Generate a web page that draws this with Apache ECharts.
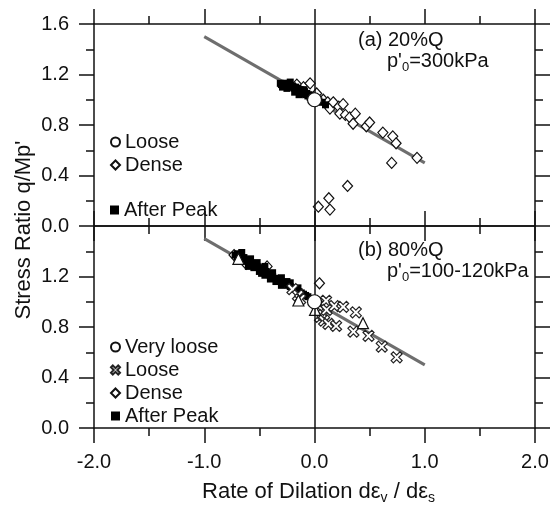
<!DOCTYPE html>
<html>
<head>
<meta charset="utf-8">
<script src="https://cdn.jsdelivr.net/npm/echarts@6/dist/echarts.min.js"></script>
<style>html,body{margin:0;padding:0;background:#fff}#c{width:552px;height:507px}</style>
</head>
<body>
<div id="c"></div>
<script>
// ---- data ----
const xTicks = [-2, -1, 0, 1, 2];
const yTicks = [0, 0.4, 0.8, 1.2, 1.6];
const fitLine = [[-1.0, 1.5], [1.0, 0.5]];

// (a) 20%Q, p'0 = 300 kPa
const topLoose = [[0.0, 1.0]];
const topDense = [[-0.16, 1.12], [-0.10, 1.10], [-0.04, 1.13], [0.02, 1.05], [0.08, 1.00], [0.12, 0.98],
  [0.14, 0.93], [0.17, 0.98], [0.22, 0.945], [0.23, 0.89], [0.26, 0.965], [0.28, 0.88], [0.32, 0.86],
  [0.35, 0.81], [0.37, 0.89], [0.47, 0.79], [0.50, 0.82], [0.62, 0.74], [0.71, 0.71], [0.74, 0.655],
  [0.93, 0.54], [0.70, 0.50], [0.30, 0.317], [0.13, 0.22], [0.035, 0.153], [0.14, 0.13]];
const topAfterPeak = [[-0.31, 1.13], [-0.30, 1.12], [-0.28, 1.13], [-0.27, 1.12], [-0.26, 1.13], [-0.25, 1.12],
  [-0.24, 1.11], [-0.23, 1.12], [-0.22, 1.11], [-0.21, 1.10], [-0.20, 1.11], [-0.19, 1.10], [-0.18, 1.09],
  [-0.17, 1.10], [-0.16, 1.08], [-0.15, 1.09], [-0.14, 1.07], [-0.13, 1.08], [-0.12, 1.06], [-0.11, 1.07],
  [-0.10, 1.05], [-0.09, 1.06], [-0.08, 1.04], [-0.07, 1.05], [-0.06, 1.03], [-0.05, 1.04], [-0.04, 1.02],
  [-0.03, 1.03], [-0.02, 1.01], [0.04, 0.99], [0.07, 0.98], [0.10, 0.96],
  [-0.29, 1.10], [-0.25, 1.09], [-0.22, 1.14], [-0.18, 1.06], [-0.14, 1.04], [-0.10, 1.08]];

// (b) 80%Q, p'0 = 100-120 kPa
const botVeryLoose = [[0.0, 1.0]];
const botLoose = [[-0.20, 1.10], [-0.15, 1.05], [-0.13, 1.02], [0.03, 0.97], [0.05, 0.88], [0.08, 0.895],
  [0.087, 0.85], [0.105, 1.008], [0.11, 0.935], [0.126, 0.824], [0.18, 0.966], [0.196, 0.808], [0.26, 0.96],
  [0.353, 0.763], [0.375, 0.916], [0.49, 0.73], [0.61, 0.644], [0.745, 0.56]];
const botDense = [[-0.73, 1.37], [-0.66, 1.35], [-0.62, 1.30], [-0.43, 1.28], [0.045, 1.146]];
const botAfterPeak = [[-0.72, 1.37], [-0.70, 1.38], [-0.68, 1.36], [-0.66, 1.35], [-0.64, 1.35], [-0.62, 1.33],
  [-0.60, 1.32], [-0.58, 1.31], [-0.56, 1.30], [-0.54, 1.29], [-0.52, 1.28], [-0.50, 1.27], [-0.48, 1.225],
  [-0.46, 1.25], [-0.44, 1.24], [-0.42, 1.22], [-0.40, 1.21], [-0.38, 1.20], [-0.36, 1.186], [-0.34, 1.18],
  [-0.32, 1.17], [-0.30, 1.16], [-0.28, 1.15], [-0.25, 1.16], [-0.24, 1.13], [-0.22, 1.12], [-0.20, 1.11],
  [-0.18, 1.10], [-0.16, 1.09], [-0.14, 1.08], [-0.12, 1.07], [-0.10, 1.06], [-0.08, 1.05], [-0.06, 1.04],
  [-0.70, 1.33], [-0.65, 1.32], [-0.60, 1.28], [-0.55, 1.27], [-0.50, 1.24], [-0.45, 1.21], [-0.40, 1.18],
  [-0.35, 1.16], [-0.30, 1.13], [-0.66, 1.39], [-0.58, 1.34], [-0.52, 1.31], [-0.45, 1.28], [-0.38, 1.23],
  [-0.30, 1.19], [-0.22, 1.15], [-0.15, 1.11]];
const botOther = [[-0.69, 1.34], [-0.146, 1.01], [0.005, 0.935], [0.44, 0.83]];

// ---- styling ----
const FONT = 'Liberation Sans, Arial, sans-serif';
const INK = '#111';
const xPath = 'path://M2,0 L5,3 L8,0 L10,2 L7,5 L10,8 L8,10 L5,7 L2,10 L0,8 L3,5 L0,2 Z';

function xAxis(grid, pos, showLabel, inside, name) {
  const ax = {
    type: 'value', gridIndex: grid, position: pos,
    min: xTicks[0], max: xTicks[xTicks.length - 1], interval: xTicks[1] - xTicks[0],
    axisLine: { show: true, onZero: false, lineStyle: { color: INK, width: 1.5 } },
    axisTick: { show: true, inside: inside, length: 15, lineStyle: { color: INK, width: 1.5 } },
    minorTick: { show: true, splitNumber: 2, length: 8, lineStyle: { color: INK, width: 1.5 } },
    splitLine: { show: false }, minorSplitLine: { show: false },
    axisLabel: { show: showLabel, fontSize: 20, fontFamily: FONT, color: INK, margin: 24,
      formatter: v => v.toFixed(1) }
  };
  if (name) {
    ax.name = '{t|Rate of Dilation dε}{s|v}{t| / dε}{s|s}';
    ax.nameLocation = 'middle';
    ax.nameGap = 51;
    ax.nameTextStyle = {
      padding: [0, 0, 0, 8],
      rich: {
        t: { fontSize: 22, fontFamily: FONT, color: INK, lineHeight: 26 },
        s: { fontSize: 14, fontFamily: FONT, color: INK, lineHeight: 26, padding: [13, 0, 0, 0] }
      }
    };
  }
  return ax;
}
function yAxis(grid, pos, showLabel, showMax) {
  return {
    type: 'value', gridIndex: grid, position: pos,
    min: yTicks[0], max: yTicks[yTicks.length - 1], interval: yTicks[1] - yTicks[0],
    axisLine: { show: true, onZero: false, lineStyle: { color: INK, width: 1.5 } },
    axisTick: { show: true, inside: false, length: 15, lineStyle: { color: INK, width: 1.5 } },
    minorTick: { show: true, splitNumber: 2, length: 8, lineStyle: { color: INK, width: 1.5 } },
    splitLine: { show: false }, minorSplitLine: { show: false },
    axisLabel: { show: showLabel, showMaxLabel: showMax, fontSize: 20, fontFamily: FONT, color: INK, margin: 25,
      formatter: v => v.toFixed(1) }
  };
}

const openStyle = { color: '#fff', borderColor: INK, borderWidth: 1.2, opacity: 1 };

function fit(xi, yi) {
  return { type: 'line', xAxisIndex: xi, yAxisIndex: yi, data: fitLine, symbol: 'none', silent: true,
    lineStyle: { color: '#6e6e6e', width: 3 }, z: 1,
    markLine: { silent: true, symbol: 'none', label: { show: false },
      lineStyle: { color: INK, width: 1.5, type: 'solid' }, data: [{ xAxis: 0 }] } };
}

const legendText = { fontSize: 20, fontFamily: FONT, color: INK, lineHeight: 22 };
const legendBase = { orient: 'vertical', left: 105, itemWidth: 9, itemHeight: 9, itemGap: 1,
  selectedMode: false, textStyle: legendText, formatter: n => n.replace(/ \(b\)$/, '') };

const option = {
  backgroundColor: '#fff',
  animation: false,
  grid: [
    { left: 94, top: 24, width: 441, height: 202 },
    { left: 94, top: 226, width: 441, height: 202 }
  ],
  xAxis: [
    xAxis(0, 'bottom', false, true),
    xAxis(0, 'top', false, false),
    xAxis(1, 'bottom', true, false, true),
    xAxis(1, 'top', false, true)
  ],
  yAxis: [
    yAxis(0, 'left', true, true),
    yAxis(0, 'right', false, true),
    yAxis(1, 'left', true, false),
    yAxis(1, 'right', false, false)
  ],
  legend: [
    Object.assign({}, legendBase, { top: 126, data: ['Loose', 'Dense'] }),
    Object.assign({}, legendBase, { top: 194, data: ['After Peak'] }),
    Object.assign({}, legendBase, { top: 331, data: ['Very loose', 'Loose (b)', 'Dense (b)', 'After Peak (b)'] })
  ],
  series: [
    fit(0, 0),
    { name: 'Dense', type: 'scatter', xAxisIndex: 0, yAxisIndex: 0, data: topDense,
      symbol: 'diamond', symbolSize: [10, 11], itemStyle: openStyle, z: 2 },
    { name: 'After Peak', type: 'scatter', xAxisIndex: 0, yAxisIndex: 0, data: topAfterPeak,
      symbol: 'rect', symbolSize: 7, itemStyle: { color: '#000', opacity: 1 }, z: 3 },
    { name: 'Loose', type: 'scatter', xAxisIndex: 0, yAxisIndex: 0, data: topLoose,
      symbol: 'circle', symbolSize: 14, itemStyle: openStyle, z: 5 },

    fit(2, 2),
    { name: 'Dense (b)', type: 'scatter', xAxisIndex: 2, yAxisIndex: 2, data: botDense,
      symbol: 'diamond', symbolSize: [10, 11], itemStyle: openStyle, z: 2 },
    { name: 'After Peak (b)', type: 'scatter', xAxisIndex: 2, yAxisIndex: 2, data: botAfterPeak,
      symbol: 'rect', symbolSize: 7, itemStyle: { color: '#000', opacity: 1 }, z: 3 },
    { name: 'Loose (b)', type: 'scatter', xAxisIndex: 2, yAxisIndex: 2, data: botLoose,
      symbol: xPath, symbolSize: 11, itemStyle: { color: '#fff', borderColor: '#222', borderWidth: 1.2, opacity: 1 }, z: 4 },
    { name: 'other', type: 'scatter', xAxisIndex: 2, yAxisIndex: 2, data: botOther,
      symbol: 'triangle', symbolSize: 11, itemStyle: openStyle, z: 4 },
    { name: 'Very loose', type: 'scatter', xAxisIndex: 2, yAxisIndex: 2, data: botVeryLoose,
      symbol: 'circle', symbolSize: 14, itemStyle: openStyle, z: 5 }
  ],
  graphic: [
    { type: 'text', x: 24, y: 230, rotation: Math.PI / 2,
      style: { text: "Stress Ratio q/Mp'", font: '22px ' + FONT, fill: INK, align: 'center', verticalAlign: 'middle' } },
    { type: 'text', x: 358, y: 40,
      style: { text: '(a) 20%Q', font: '20px ' + FONT, fill: INK, align: 'left', verticalAlign: 'middle' } },
    { type: 'text', x: 387, y: 61,
      style: { text: "{t|p'}{s|0}{t|=300kPa}", align: 'left', verticalAlign: 'middle',
        rich: { t: { fontSize: 20, fontFamily: FONT, fill: INK, lineHeight: 24 },
                s: { fontSize: 13, fontFamily: FONT, fill: INK, lineHeight: 24, padding: [12, 0, 0, 0] } } } },
    { type: 'text', x: 358, y: 250,
      style: { text: '(b) 80%Q', font: '20px ' + FONT, fill: INK, align: 'left', verticalAlign: 'middle' } },
    { type: 'text', x: 387, y: 271,
      style: { text: "{t|p'}{s|0}{t|=100-120kPa}", align: 'left', verticalAlign: 'middle',
        rich: { t: { fontSize: 20, fontFamily: FONT, fill: INK, lineHeight: 24 },
                s: { fontSize: 13, fontFamily: FONT, fill: INK, lineHeight: 24, padding: [12, 0, 0, 0] } } } }
  ]
};

const chart = echarts.init(document.getElementById('c'), null, { renderer: 'canvas' });
chart.setOption(option);
</script>
</body>
</html>
